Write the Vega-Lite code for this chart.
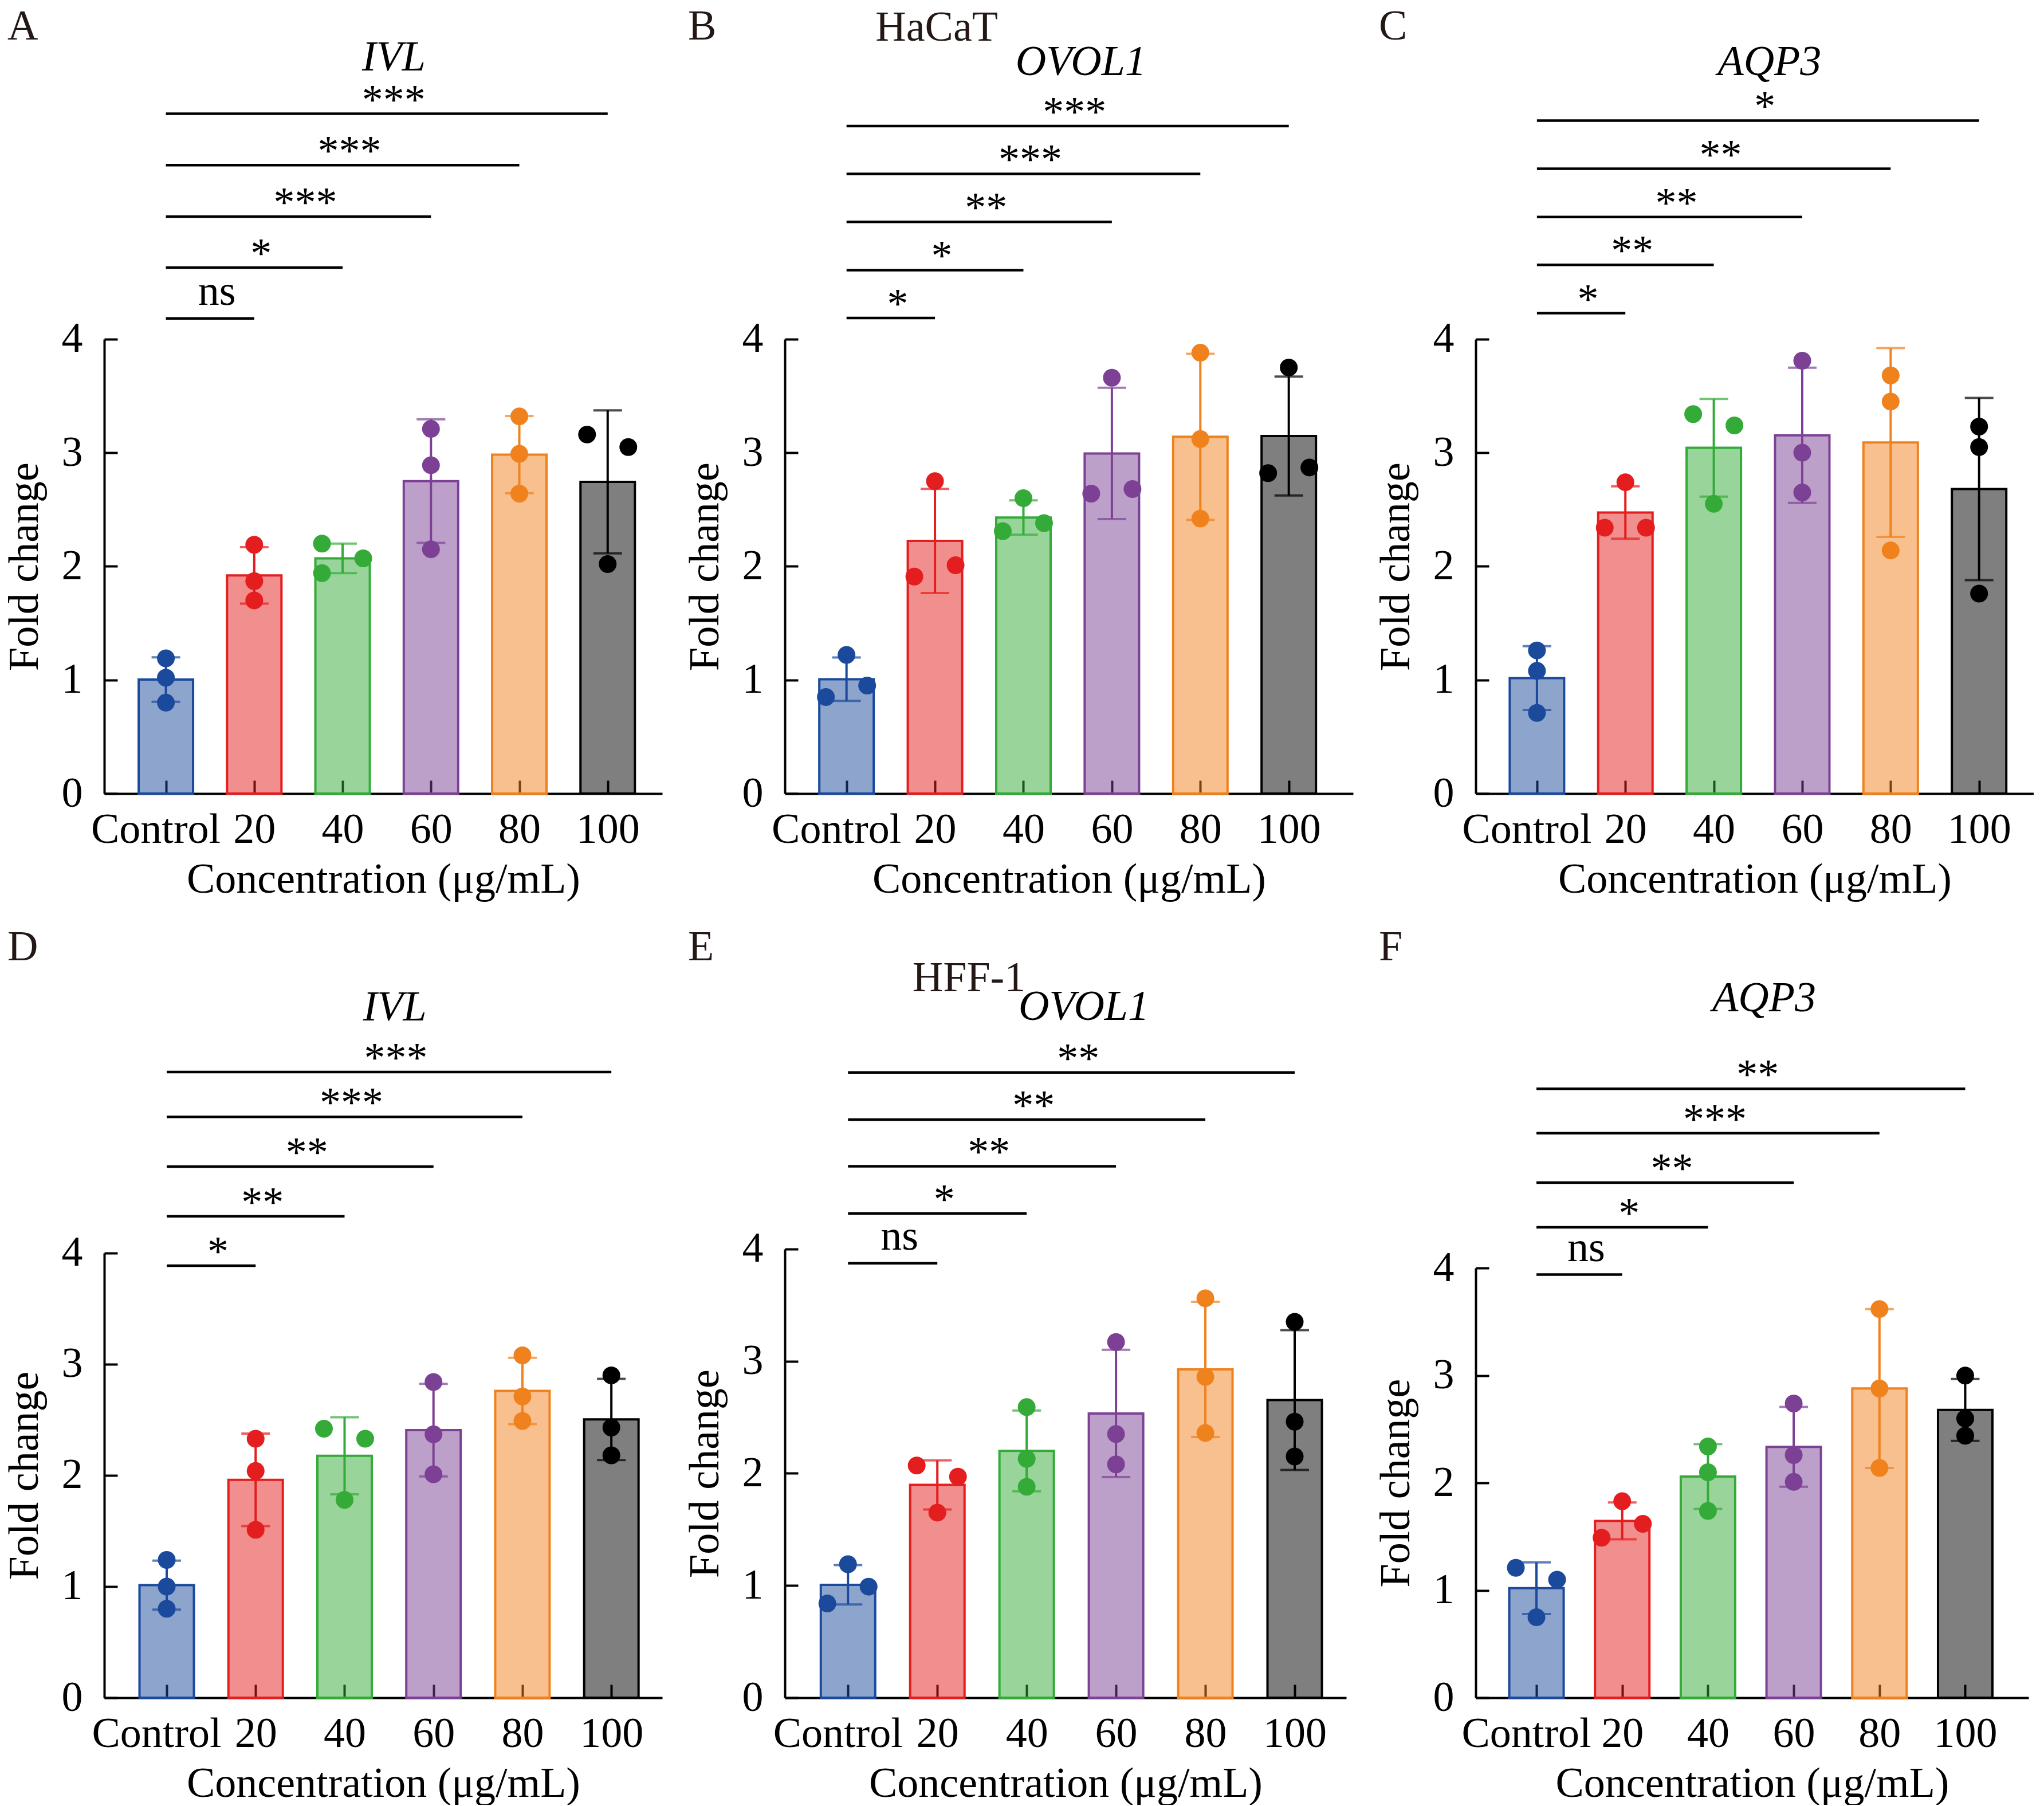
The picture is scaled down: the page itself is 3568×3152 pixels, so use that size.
{
  "$schema": "https://vega.github.io/schema/vega-lite/v6.json",
  "background": "white",
  "padding": {"left": 6, "top": 10, "right": 0, "bottom": 0},
  "datasets": {
    "points": [
      {"panel": "A", "conc": 0, "fc": 1.19, "side": 0}, {"panel": "A", "conc": 0, "fc": 1.02, "side": 0}, {"panel": "A", "conc": 0, "fc": 0.80, "side": 0},
      {"panel": "A", "conc": 20, "fc": 2.19, "side": 0}, {"panel": "A", "conc": 20, "fc": 1.87, "side": 0}, {"panel": "A", "conc": 20, "fc": 1.70, "side": 0},
      {"panel": "A", "conc": 40, "fc": 2.20, "side": -1}, {"panel": "A", "conc": 40, "fc": 2.07, "side": 1}, {"panel": "A", "conc": 40, "fc": 1.94, "side": -1},
      {"panel": "A", "conc": 60, "fc": 3.21, "side": 0}, {"panel": "A", "conc": 60, "fc": 2.89, "side": 0}, {"panel": "A", "conc": 60, "fc": 2.15, "side": 0},
      {"panel": "A", "conc": 80, "fc": 3.32, "side": 0}, {"panel": "A", "conc": 80, "fc": 2.99, "side": 0}, {"panel": "A", "conc": 80, "fc": 2.64, "side": 0},
      {"panel": "A", "conc": 100, "fc": 3.16, "side": -1}, {"panel": "A", "conc": 100, "fc": 3.05, "side": 1}, {"panel": "A", "conc": 100, "fc": 2.02, "side": 0},
      {"panel": "B", "conc": 0, "fc": 1.22, "side": 0}, {"panel": "B", "conc": 0, "fc": 0.95, "side": 1}, {"panel": "B", "conc": 0, "fc": 0.85, "side": -1},
      {"panel": "B", "conc": 20, "fc": 2.75, "side": 0}, {"panel": "B", "conc": 20, "fc": 2.01, "side": 1}, {"panel": "B", "conc": 20, "fc": 1.91, "side": -1},
      {"panel": "B", "conc": 40, "fc": 2.60, "side": 0}, {"panel": "B", "conc": 40, "fc": 2.38, "side": 1}, {"panel": "B", "conc": 40, "fc": 2.31, "side": -1},
      {"panel": "B", "conc": 60, "fc": 3.66, "side": 0}, {"panel": "B", "conc": 60, "fc": 2.68, "side": 1}, {"panel": "B", "conc": 60, "fc": 2.64, "side": -1},
      {"panel": "B", "conc": 80, "fc": 3.88, "side": 0}, {"panel": "B", "conc": 80, "fc": 3.12, "side": 0}, {"panel": "B", "conc": 80, "fc": 2.42, "side": 0},
      {"panel": "B", "conc": 100, "fc": 3.75, "side": 0}, {"panel": "B", "conc": 100, "fc": 2.87, "side": 1}, {"panel": "B", "conc": 100, "fc": 2.82, "side": -1},
      {"panel": "C", "conc": 0, "fc": 1.26, "side": 0}, {"panel": "C", "conc": 0, "fc": 1.08, "side": 0}, {"panel": "C", "conc": 0, "fc": 0.71, "side": 0},
      {"panel": "C", "conc": 20, "fc": 2.74, "side": 0}, {"panel": "C", "conc": 20, "fc": 2.34, "side": -1}, {"panel": "C", "conc": 20, "fc": 2.34, "side": 1},
      {"panel": "C", "conc": 40, "fc": 3.34, "side": -1}, {"panel": "C", "conc": 40, "fc": 3.24, "side": 1}, {"panel": "C", "conc": 40, "fc": 2.55, "side": 0},
      {"panel": "C", "conc": 60, "fc": 3.81, "side": 0}, {"panel": "C", "conc": 60, "fc": 3.00, "side": 0}, {"panel": "C", "conc": 60, "fc": 2.65, "side": 0},
      {"panel": "C", "conc": 80, "fc": 3.68, "side": 0}, {"panel": "C", "conc": 80, "fc": 3.45, "side": 0}, {"panel": "C", "conc": 80, "fc": 2.14, "side": 0},
      {"panel": "C", "conc": 100, "fc": 3.23, "side": 0}, {"panel": "C", "conc": 100, "fc": 3.05, "side": 0}, {"panel": "C", "conc": 100, "fc": 1.76, "side": 0},
      {"panel": "D", "conc": 0, "fc": 1.24, "side": 0}, {"panel": "D", "conc": 0, "fc": 1.00, "side": 0}, {"panel": "D", "conc": 0, "fc": 0.80, "side": 0},
      {"panel": "D", "conc": 20, "fc": 2.33, "side": 0}, {"panel": "D", "conc": 20, "fc": 2.04, "side": 0}, {"panel": "D", "conc": 20, "fc": 1.51, "side": 0},
      {"panel": "D", "conc": 40, "fc": 2.42, "side": -1}, {"panel": "D", "conc": 40, "fc": 2.33, "side": 1}, {"panel": "D", "conc": 40, "fc": 1.78, "side": 0},
      {"panel": "D", "conc": 60, "fc": 2.84, "side": 0}, {"panel": "D", "conc": 60, "fc": 2.37, "side": 0}, {"panel": "D", "conc": 60, "fc": 2.01, "side": 0},
      {"panel": "D", "conc": 80, "fc": 3.08, "side": 0}, {"panel": "D", "conc": 80, "fc": 2.71, "side": 0}, {"panel": "D", "conc": 80, "fc": 2.49, "side": 0},
      {"panel": "D", "conc": 100, "fc": 2.90, "side": 0}, {"panel": "D", "conc": 100, "fc": 2.43, "side": 0}, {"panel": "D", "conc": 100, "fc": 2.18, "side": 0},
      {"panel": "E", "conc": 0, "fc": 1.19, "side": 0}, {"panel": "E", "conc": 0, "fc": 0.99, "side": 1}, {"panel": "E", "conc": 0, "fc": 0.84, "side": -1},
      {"panel": "E", "conc": 20, "fc": 2.07, "side": -1}, {"panel": "E", "conc": 20, "fc": 1.97, "side": 1}, {"panel": "E", "conc": 20, "fc": 1.65, "side": 0},
      {"panel": "E", "conc": 40, "fc": 2.59, "side": 0}, {"panel": "E", "conc": 40, "fc": 2.13, "side": 0}, {"panel": "E", "conc": 40, "fc": 1.88, "side": 0},
      {"panel": "E", "conc": 60, "fc": 3.17, "side": 0}, {"panel": "E", "conc": 60, "fc": 2.35, "side": 0}, {"panel": "E", "conc": 60, "fc": 2.08, "side": 0},
      {"panel": "E", "conc": 80, "fc": 3.56, "side": 0}, {"panel": "E", "conc": 80, "fc": 2.86, "side": 0}, {"panel": "E", "conc": 80, "fc": 2.36, "side": 0},
      {"panel": "E", "conc": 100, "fc": 3.35, "side": 0}, {"panel": "E", "conc": 100, "fc": 2.46, "side": 0}, {"panel": "E", "conc": 100, "fc": 2.15, "side": 0},
      {"panel": "F", "conc": 0, "fc": 1.21, "side": -1}, {"panel": "F", "conc": 0, "fc": 1.10, "side": 1}, {"panel": "F", "conc": 0, "fc": 0.75, "side": 0},
      {"panel": "F", "conc": 20, "fc": 1.83, "side": 0}, {"panel": "F", "conc": 20, "fc": 1.62, "side": 1}, {"panel": "F", "conc": 20, "fc": 1.49, "side": -1},
      {"panel": "F", "conc": 40, "fc": 2.34, "side": 0}, {"panel": "F", "conc": 40, "fc": 2.10, "side": 0}, {"panel": "F", "conc": 40, "fc": 1.74, "side": 0},
      {"panel": "F", "conc": 60, "fc": 2.74, "side": 0}, {"panel": "F", "conc": 60, "fc": 2.26, "side": 0}, {"panel": "F", "conc": 60, "fc": 2.01, "side": 0},
      {"panel": "F", "conc": 80, "fc": 3.62, "side": 0}, {"panel": "F", "conc": 80, "fc": 2.88, "side": 0}, {"panel": "F", "conc": 80, "fc": 2.14, "side": 0},
      {"panel": "F", "conc": 100, "fc": 3.00, "side": 0}, {"panel": "F", "conc": 100, "fc": 2.60, "side": 0}, {"panel": "F", "conc": 100, "fc": 2.44, "side": 0}
    ],
    "sig": [
      {"panel": "A", "from": 0, "to": 20, "level": 4.182, "label": "ns"},
      {"panel": "A", "from": 0, "to": 40, "level": 4.630, "label": "*"},
      {"panel": "A", "from": 0, "to": 60, "level": 5.078, "label": "***"},
      {"panel": "A", "from": 0, "to": 80, "level": 5.531, "label": "***"},
      {"panel": "A", "from": 0, "to": 100, "level": 5.983, "label": "***"},
      {"panel": "B", "from": 0, "to": 20, "level": 4.186, "label": "*"},
      {"panel": "B", "from": 0, "to": 40, "level": 4.607, "label": "*"},
      {"panel": "B", "from": 0, "to": 60, "level": 5.031, "label": "**"},
      {"panel": "B", "from": 0, "to": 80, "level": 5.454, "label": "***"},
      {"panel": "B", "from": 0, "to": 100, "level": 5.875, "label": "***"},
      {"panel": "C", "from": 0, "to": 20, "level": 4.228, "label": "*"},
      {"panel": "C", "from": 0, "to": 40, "level": 4.653, "label": "**"},
      {"panel": "C", "from": 0, "to": 60, "level": 5.074, "label": "**"},
      {"panel": "C", "from": 0, "to": 80, "level": 5.499, "label": "**"},
      {"panel": "C", "from": 0, "to": 100, "level": 5.923, "label": "*"},
      {"panel": "D", "from": 0, "to": 20, "level": 3.887, "label": "*"},
      {"panel": "D", "from": 0, "to": 40, "level": 4.331, "label": "**"},
      {"panel": "D", "from": 0, "to": 60, "level": 4.778, "label": "**"},
      {"panel": "D", "from": 0, "to": 80, "level": 5.226, "label": "***"},
      {"panel": "D", "from": 0, "to": 100, "level": 5.629, "label": "***"},
      {"panel": "E", "from": 0, "to": 20, "level": 3.873, "label": "ns"},
      {"panel": "E", "from": 0, "to": 40, "level": 4.317, "label": "*"},
      {"panel": "E", "from": 0, "to": 60, "level": 4.737, "label": "**"},
      {"panel": "E", "from": 0, "to": 80, "level": 5.153, "label": "**"},
      {"panel": "E", "from": 0, "to": 100, "level": 5.573, "label": "**"},
      {"panel": "F", "from": 0, "to": 20, "level": 3.941, "label": "ns"},
      {"panel": "F", "from": 0, "to": 40, "level": 4.381, "label": "*"},
      {"panel": "F", "from": 0, "to": 60, "level": 4.797, "label": "**"},
      {"panel": "F", "from": 0, "to": 80, "level": 5.258, "label": "***"},
      {"panel": "F", "from": 0, "to": 100, "level": 5.672, "label": "**"}
    ],
    "panels": [
      {"panel": "A", "gene": "IVL"},
      {"panel": "B", "gene": "OVOL1", "cell": "HaCaT"},
      {"panel": "C", "gene": "AQP3"},
      {"panel": "D", "gene": "IVL"},
      {"panel": "E", "gene": "OVOL1", "cell": "HFF-1"},
      {"panel": "F", "gene": "AQP3"}
    ]
  },
  "columns": 3,
  "spacing": {"row": 232, "column": 214},
  "align": "each",
  "bounds": "flush",
  "concat": [
    {
      "width": 974, "height": 1375, "title": "A",
      "layer": [
        {"data": {"name": "points"}, "transform": [{"filter": "datum.panel === 'A'"}],
         "mark": {"type": "bar", "width": 95, "fillOpacity": 0.5, "strokeWidth": 4},
         "encoding": {
           "x": {"field": "conc", "type": "quantitative", "scale": {"domain": [-13.3, 111.7], "nice": false, "zero": false},
                 "axis": {"values": [0, 20, 40, 60, 80, 100], "labelExpr": "datum.value === 0 ? 'Control' : datum.label", "labelOffset": {"condition": {"test": "datum.value === 0", "value": -18}, "value": 0}, "title": "Concentration (μg/mL)"}},
           "y": {"aggregate": "mean", "field": "fc", "type": "quantitative", "scale": {"domain": [0, 6.934], "nice": false},
                 "axis": {"values": [0, 1, 2, 3, 4], "format": "d", "title": "Fold change", "domainDash": [793, 3000], "titleY": 978.5}},
           "fill": {"field": "conc", "type": "nominal", "legend": null},
           "stroke": {"field": "conc", "type": "nominal", "legend": null}
         }},
        {"data": {"name": "points"}, "transform": [{"filter": "datum.panel === 'A'"}],
         "mark": {"type": "circle", "size": 960, "opacity": 1, "xOffset": {"expr": "datum.side * 36"}},
         "encoding": {
           "x": {"field": "conc", "type": "quantitative"},
           "y": {"field": "fc", "type": "quantitative", "title": "Fold change"},
           "fill": {"field": "conc", "type": "nominal", "legend": null}
         }},
        {"data": {"name": "points"}, "transform": [{"filter": "datum.panel === 'A'"}],
         "mark": {"type": "errorbar", "extent": "stdev", "orient": "vertical", "thickness": 4, "ticks": {"size": 50, "thickness": 4}},
         "encoding": {
           "x": {"field": "conc", "type": "quantitative"},
           "y": {"field": "fc", "type": "quantitative", "title": "Fold change"},
           "color": {"field": "conc", "type": "nominal", "legend": null}
         }},
        {"data": {"name": "sig"}, "transform": [{"filter": "datum.panel === 'A'"}],
         "mark": {"type": "rule", "strokeWidth": 4.5, "color": "black"},
         "encoding": {"x": {"field": "from", "type": "quantitative"}, "x2": {"field": "to"}, "y": {"field": "level", "type": "quantitative", "title": "Fold change"}}},
        {"data": {"name": "sig"}, "transform": [{"filter": "datum.panel === 'A'"}, {"fold": ["from", "to"], "as": ["end", "pos"]}],
         "mark": {"type": "text", "dx": 12, "baseline": "alphabetic", "dy": {"expr": "datum.label === 'ns' ? -24 : 0"}},
         "encoding": {"x": {"aggregate": "mean", "field": "pos", "type": "quantitative"}, "y": {"field": "level", "type": "quantitative", "title": "Fold change"}, "text": {"field": "label"}}},
        {"data": {"name": "panels"}, "transform": [{"filter": "datum.panel === 'A'"}],
         "mark": {"type": "text", "fontStyle": "italic", "baseline": "alphabetic"},
         "encoding": {"x": {"datum": 51.6}, "y": {"datum": 6.362}, "text": {"field": "gene"}}}
      ]
    },
    {
      "width": 992, "height": 1375, "title": "B",
      "layer": [
        {"data": {"name": "points"}, "transform": [{"filter": "datum.panel === 'B'"}],
         "mark": {"type": "bar", "width": 95, "fillOpacity": 0.5, "strokeWidth": 4},
         "encoding": {
           "x": {"field": "conc", "type": "quantitative", "scale": {"domain": [-13.3, 113.9], "nice": false, "zero": false},
                 "axis": {"values": [0, 20, 40, 60, 80, 100], "labelExpr": "datum.value === 0 ? 'Control' : datum.label", "labelOffset": {"condition": {"test": "datum.value === 0", "value": -18}, "value": 0}, "title": "Concentration (μg/mL)"}},
           "y": {"aggregate": "mean", "field": "fc", "type": "quantitative", "scale": {"domain": [0, 6.934], "nice": false},
                 "axis": {"values": [0, 1, 2, 3, 4], "format": "d", "title": "Fold change", "domainDash": [793, 3000], "titleY": 978.5}},
           "fill": {"field": "conc", "type": "nominal", "legend": null},
           "stroke": {"field": "conc", "type": "nominal", "legend": null}
         }},
        {"data": {"name": "points"}, "transform": [{"filter": "datum.panel === 'B'"}],
         "mark": {"type": "circle", "size": 960, "opacity": 1, "xOffset": {"expr": "datum.side * 36"}},
         "encoding": {
           "x": {"field": "conc", "type": "quantitative"},
           "y": {"field": "fc", "type": "quantitative", "title": "Fold change"},
           "fill": {"field": "conc", "type": "nominal", "legend": null}
         }},
        {"data": {"name": "points"}, "transform": [{"filter": "datum.panel === 'B'"}],
         "mark": {"type": "errorbar", "extent": "stdev", "orient": "vertical", "thickness": 4, "ticks": {"size": 50, "thickness": 4}},
         "encoding": {
           "x": {"field": "conc", "type": "quantitative"},
           "y": {"field": "fc", "type": "quantitative", "title": "Fold change"},
           "color": {"field": "conc", "type": "nominal", "legend": null}
         }},
        {"data": {"name": "sig"}, "transform": [{"filter": "datum.panel === 'B'"}],
         "mark": {"type": "rule", "strokeWidth": 4.5, "color": "black"},
         "encoding": {"x": {"field": "from", "type": "quantitative"}, "x2": {"field": "to"}, "y": {"field": "level", "type": "quantitative", "title": "Fold change"}}},
        {"data": {"name": "sig"}, "transform": [{"filter": "datum.panel === 'B'"}, {"fold": ["from", "to"], "as": ["end", "pos"]}],
         "mark": {"type": "text", "dx": 12, "baseline": "alphabetic", "dy": {"expr": "datum.label === 'ns' ? -24 : 0"}},
         "encoding": {"x": {"aggregate": "mean", "field": "pos", "type": "quantitative"}, "y": {"field": "level", "type": "quantitative", "title": "Fold change"}, "text": {"field": "label"}}},
        {"data": {"name": "panels"}, "transform": [{"filter": "datum.panel === 'B'"}],
         "mark": {"type": "text", "fontStyle": "italic", "baseline": "alphabetic"},
         "encoding": {"x": {"datum": 53.0}, "y": {"datum": 6.323}, "text": {"field": "gene"}}},
        {"data": {"name": "panels"}, "transform": [{"filter": "datum.panel === 'B'"}],
         "mark": {"type": "text", "baseline": "alphabetic", "color": "#231815"},
         "encoding": {"x": {"datum": 20.4}, "y": {"datum": 6.627}, "text": {"field": "cell"}}}
      ]
    },
    {
      "width": 974, "height": 1375, "title": "C",
      "layer": [
        {"data": {"name": "points"}, "transform": [{"filter": "datum.panel === 'C'"}],
         "mark": {"type": "bar", "width": 95, "fillOpacity": 0.5, "strokeWidth": 4},
         "encoding": {
           "x": {"field": "conc", "type": "quantitative", "scale": {"domain": [-13.2, 111.7], "nice": false, "zero": false},
                 "axis": {"values": [0, 20, 40, 60, 80, 100], "labelExpr": "datum.value === 0 ? 'Control' : datum.label", "labelOffset": {"condition": {"test": "datum.value === 0", "value": -18}, "value": 0}, "title": "Concentration (μg/mL)"}},
           "y": {"aggregate": "mean", "field": "fc", "type": "quantitative", "scale": {"domain": [0, 6.934], "nice": false},
                 "axis": {"values": [0, 1, 2, 3, 4], "format": "d", "title": "Fold change", "domainDash": [793, 3000], "titleY": 978.5}},
           "fill": {"field": "conc", "type": "nominal", "legend": null},
           "stroke": {"field": "conc", "type": "nominal", "legend": null}
         }},
        {"data": {"name": "points"}, "transform": [{"filter": "datum.panel === 'C'"}],
         "mark": {"type": "circle", "size": 960, "opacity": 1, "xOffset": {"expr": "datum.side * 36"}},
         "encoding": {
           "x": {"field": "conc", "type": "quantitative"},
           "y": {"field": "fc", "type": "quantitative", "title": "Fold change"},
           "fill": {"field": "conc", "type": "nominal", "legend": null}
         }},
        {"data": {"name": "points"}, "transform": [{"filter": "datum.panel === 'C'"}],
         "mark": {"type": "errorbar", "extent": "stdev", "orient": "vertical", "thickness": 4, "ticks": {"size": 50, "thickness": 4}},
         "encoding": {
           "x": {"field": "conc", "type": "quantitative"},
           "y": {"field": "fc", "type": "quantitative", "title": "Fold change"},
           "color": {"field": "conc", "type": "nominal", "legend": null}
         }},
        {"data": {"name": "sig"}, "transform": [{"filter": "datum.panel === 'C'"}],
         "mark": {"type": "rule", "strokeWidth": 4.5, "color": "black"},
         "encoding": {"x": {"field": "from", "type": "quantitative"}, "x2": {"field": "to"}, "y": {"field": "level", "type": "quantitative", "title": "Fold change"}}},
        {"data": {"name": "sig"}, "transform": [{"filter": "datum.panel === 'C'"}, {"fold": ["from", "to"], "as": ["end", "pos"]}],
         "mark": {"type": "text", "dx": 12, "baseline": "alphabetic", "dy": {"expr": "datum.label === 'ns' ? -24 : 0"}},
         "encoding": {"x": {"aggregate": "mean", "field": "pos", "type": "quantitative"}, "y": {"field": "level", "type": "quantitative", "title": "Fold change"}, "text": {"field": "label"}}},
        {"data": {"name": "panels"}, "transform": [{"filter": "datum.panel === 'C'"}],
         "mark": {"type": "text", "fontStyle": "italic", "baseline": "alphabetic"},
         "encoding": {"x": {"datum": 52.6}, "y": {"datum": 6.323}, "text": {"field": "gene"}}}
      ]
    },
    {
      "width": 974, "height": 1346, "title": "D",
      "layer": [
        {"data": {"name": "points"}, "transform": [{"filter": "datum.panel === 'D'"}],
         "mark": {"type": "bar", "width": 95, "fillOpacity": 0.5, "strokeWidth": 4},
         "encoding": {
           "x": {"field": "conc", "type": "quantitative", "scale": {"domain": [-13.4, 110.8], "nice": false, "zero": false},
                 "axis": {"values": [0, 20, 40, 60, 80, 100], "labelExpr": "datum.value === 0 ? 'Control' : datum.label", "labelOffset": {"condition": {"test": "datum.value === 0", "value": -18}, "value": 0}, "title": "Concentration (μg/mL)"}},
           "y": {"aggregate": "mean", "field": "fc", "type": "quantitative", "scale": {"domain": [0, 6.938], "nice": false},
                 "axis": {"values": [0, 1, 2, 3, 4], "format": "d", "title": "Fold change", "domainDash": [776, 3000], "titleY": 958}},
           "fill": {"field": "conc", "type": "nominal", "legend": null},
           "stroke": {"field": "conc", "type": "nominal", "legend": null}
         }},
        {"data": {"name": "points"}, "transform": [{"filter": "datum.panel === 'D'"}],
         "mark": {"type": "circle", "size": 960, "opacity": 1, "xOffset": {"expr": "datum.side * 36"}},
         "encoding": {
           "x": {"field": "conc", "type": "quantitative"},
           "y": {"field": "fc", "type": "quantitative", "title": "Fold change"},
           "fill": {"field": "conc", "type": "nominal", "legend": null}
         }},
        {"data": {"name": "points"}, "transform": [{"filter": "datum.panel === 'D'"}],
         "mark": {"type": "errorbar", "extent": "stdev", "orient": "vertical", "thickness": 4, "ticks": {"size": 50, "thickness": 4}},
         "encoding": {
           "x": {"field": "conc", "type": "quantitative"},
           "y": {"field": "fc", "type": "quantitative", "title": "Fold change"},
           "color": {"field": "conc", "type": "nominal", "legend": null}
         }},
        {"data": {"name": "sig"}, "transform": [{"filter": "datum.panel === 'D'"}],
         "mark": {"type": "rule", "strokeWidth": 4.5, "color": "black"},
         "encoding": {"x": {"field": "from", "type": "quantitative"}, "x2": {"field": "to"}, "y": {"field": "level", "type": "quantitative", "title": "Fold change"}}},
        {"data": {"name": "sig"}, "transform": [{"filter": "datum.panel === 'D'"}, {"fold": ["from", "to"], "as": ["end", "pos"]}],
         "mark": {"type": "text", "dx": 12, "baseline": "alphabetic", "dy": {"expr": "datum.label === 'ns' ? -24 : 0"}},
         "encoding": {"x": {"aggregate": "mean", "field": "pos", "type": "quantitative"}, "y": {"field": "level", "type": "quantitative", "title": "Fold change"}, "text": {"field": "label"}}},
        {"data": {"name": "panels"}, "transform": [{"filter": "datum.panel === 'D'"}],
         "mark": {"type": "text", "fontStyle": "italic", "baseline": "alphabetic"},
         "encoding": {"x": {"datum": 51.3}, "y": {"datum": 6.093}, "text": {"field": "gene"}}}
      ]
    },
    {
      "width": 980, "height": 1346, "title": "E",
      "layer": [
        {"data": {"name": "points"}, "transform": [{"filter": "datum.panel === 'E'"}],
         "mark": {"type": "bar", "width": 95, "fillOpacity": 0.5, "strokeWidth": 4},
         "encoding": {
           "x": {"field": "conc", "type": "quantitative", "scale": {"domain": [-13.5, 110.9], "nice": false, "zero": false},
                 "axis": {"values": [0, 20, 40, 60, 80, 100], "labelExpr": "datum.value === 0 ? 'Control' : datum.label", "labelOffset": {"condition": {"test": "datum.value === 0", "value": -18}, "value": 0}, "title": "Concentration (μg/mL)"}},
           "y": {"aggregate": "mean", "field": "fc", "type": "quantitative", "scale": {"domain": [0, 6.874], "nice": false},
                 "axis": {"values": [0, 1, 2, 3, 4], "format": "d", "title": "Fold change", "domainDash": [783, 3000], "titleY": 954.5}},
           "fill": {"field": "conc", "type": "nominal", "legend": null},
           "stroke": {"field": "conc", "type": "nominal", "legend": null}
         }},
        {"data": {"name": "points"}, "transform": [{"filter": "datum.panel === 'E'"}],
         "mark": {"type": "circle", "size": 960, "opacity": 1, "xOffset": {"expr": "datum.side * 36"}},
         "encoding": {
           "x": {"field": "conc", "type": "quantitative"},
           "y": {"field": "fc", "type": "quantitative", "title": "Fold change"},
           "fill": {"field": "conc", "type": "nominal", "legend": null}
         }},
        {"data": {"name": "points"}, "transform": [{"filter": "datum.panel === 'E'"}],
         "mark": {"type": "errorbar", "extent": "stdev", "orient": "vertical", "thickness": 4, "ticks": {"size": 50, "thickness": 4}},
         "encoding": {
           "x": {"field": "conc", "type": "quantitative"},
           "y": {"field": "fc", "type": "quantitative", "title": "Fold change"},
           "color": {"field": "conc", "type": "nominal", "legend": null}
         }},
        {"data": {"name": "sig"}, "transform": [{"filter": "datum.panel === 'E'"}],
         "mark": {"type": "rule", "strokeWidth": 4.5, "color": "black"},
         "encoding": {"x": {"field": "from", "type": "quantitative"}, "x2": {"field": "to"}, "y": {"field": "level", "type": "quantitative", "title": "Fold change"}}},
        {"data": {"name": "sig"}, "transform": [{"filter": "datum.panel === 'E'"}, {"fold": ["from", "to"], "as": ["end", "pos"]}],
         "mark": {"type": "text", "dx": 12, "baseline": "alphabetic", "dy": {"expr": "datum.label === 'ns' ? -24 : 0"}},
         "encoding": {"x": {"aggregate": "mean", "field": "pos", "type": "quantitative"}, "y": {"field": "level", "type": "quantitative", "title": "Fold change"}, "text": {"field": "label"}}},
        {"data": {"name": "panels"}, "transform": [{"filter": "datum.panel === 'E'"}],
         "mark": {"type": "text", "fontStyle": "italic", "baseline": "alphabetic"},
         "encoding": {"x": {"datum": 52.8}, "y": {"datum": 6.042}, "text": {"field": "gene"}}},
        {"data": {"name": "panels"}, "transform": [{"filter": "datum.panel === 'E'"}],
         "mark": {"type": "text", "baseline": "alphabetic", "color": "#231815"},
         "encoding": {"x": {"datum": 27.1}, "y": {"datum": 6.297}, "text": {"field": "cell"}}}
      ]
    },
    {
      "width": 965, "height": 1346, "title": "F",
      "layer": [
        {"data": {"name": "points"}, "transform": [{"filter": "datum.panel === 'F'"}],
         "mark": {"type": "bar", "width": 95, "fillOpacity": 0.5, "strokeWidth": 4},
         "encoding": {
           "x": {"field": "conc", "type": "quantitative", "scale": {"domain": [-13.5, 114.1], "nice": false, "zero": false},
                 "axis": {"values": [0, 20, 40, 60, 80, 100], "labelExpr": "datum.value === 0 ? 'Control' : datum.label", "labelOffset": {"condition": {"test": "datum.value === 0", "value": -18}, "value": 0}, "title": "Concentration (μg/mL)"}},
           "y": {"aggregate": "mean", "field": "fc", "type": "quantitative", "scale": {"domain": [0, 7.183], "nice": false},
                 "axis": {"values": [0, 1, 2, 3, 4], "format": "d", "title": "Fold change", "domainDash": [750, 3000], "titleY": 971}},
           "fill": {"field": "conc", "type": "nominal", "legend": null},
           "stroke": {"field": "conc", "type": "nominal", "legend": null}
         }},
        {"data": {"name": "points"}, "transform": [{"filter": "datum.panel === 'F'"}],
         "mark": {"type": "circle", "size": 960, "opacity": 1, "xOffset": {"expr": "datum.side * 36"}},
         "encoding": {
           "x": {"field": "conc", "type": "quantitative"},
           "y": {"field": "fc", "type": "quantitative", "title": "Fold change"},
           "fill": {"field": "conc", "type": "nominal", "legend": null}
         }},
        {"data": {"name": "points"}, "transform": [{"filter": "datum.panel === 'F'"}],
         "mark": {"type": "errorbar", "extent": "stdev", "orient": "vertical", "thickness": 4, "ticks": {"size": 50, "thickness": 4}},
         "encoding": {
           "x": {"field": "conc", "type": "quantitative"},
           "y": {"field": "fc", "type": "quantitative", "title": "Fold change"},
           "color": {"field": "conc", "type": "nominal", "legend": null}
         }},
        {"data": {"name": "sig"}, "transform": [{"filter": "datum.panel === 'F'"}],
         "mark": {"type": "rule", "strokeWidth": 4.5, "color": "black"},
         "encoding": {"x": {"field": "from", "type": "quantitative"}, "x2": {"field": "to"}, "y": {"field": "level", "type": "quantitative", "title": "Fold change"}}},
        {"data": {"name": "sig"}, "transform": [{"filter": "datum.panel === 'F'"}, {"fold": ["from", "to"], "as": ["end", "pos"]}],
         "mark": {"type": "text", "dx": 12, "baseline": "alphabetic", "dy": {"expr": "datum.label === 'ns' ? -24 : 0"}},
         "encoding": {"x": {"aggregate": "mean", "field": "pos", "type": "quantitative"}, "y": {"field": "level", "type": "quantitative", "title": "Fold change"}, "text": {"field": "label"}}},
        {"data": {"name": "panels"}, "transform": [{"filter": "datum.panel === 'F'"}],
         "mark": {"type": "text", "fontStyle": "italic", "baseline": "alphabetic"},
         "encoding": {"x": {"datum": 53.1}, "y": {"datum": 6.391}, "text": {"field": "gene"}}}
      ]
    }
  ],
  "config": {
    "view": {"stroke": null},
    "font": "Liberation Serif",
    "legend": {"disable": true},
    "range": {"category": ["#1B4A9C", "#E41E1E", "#34AB38", "#7C4195", "#F0821E", "#000000"]},
    "title": {"font": "Liberation Serif", "fontSize": 74, "fontWeight": "normal", "color": "#231815", "anchor": "start", "frame": "bounds", "baseline": "top", "offset": -75, "dx": 7},
    "axis": {"domainColor": "black", "domainWidth": 4, "tickColor": "black", "tickWidth": 4, "tickSize": -23,
             "labelFont": "Liberation Serif", "labelFontSize": 74, "labelColor": "black", "labelLimit": 0,
             "titleFont": "Liberation Serif", "titleFontSize": 74, "titleFontWeight": "normal", "titleColor": "black",
             "grid": false, "labelFlush": false, "labelOverlap": false},
    "axisX": {"labelPadding": 50, "titlePadding": 14},
    "axisY": {"labelPadding": 61, "titlePadding": 26},
    "text": {"font": "Liberation Serif", "fontSize": 74, "color": "black"}
  }
}
